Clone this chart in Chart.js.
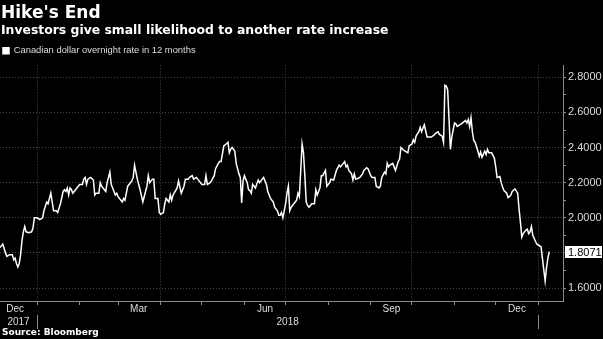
<!DOCTYPE html>
<html>
<head>
<meta charset="utf-8">
<script src="https://cdn.jsdelivr.net/npm/chart.js@4.4.0/dist/chart.umd.min.js"></script>
<style>
  html, body { margin: 0; padding: 0; background: #000; }
  #wrap { position: relative; width: 603px; height: 339px; overflow: hidden; }
  canvas { position: absolute; left: 0; top: 0; }
  .hd { position: absolute; left: 1px; color: #fff; font-family: "DejaVu Sans"; font-weight: bold; white-space: nowrap; }
  #title { top: 4px; font-size: 17px; line-height: 17px; }
  #sub { top: 23px; font-size: 12.4px; line-height: 13px; }
  #src { top: 328px; left: 2px; font-size: 9px; line-height: 9px; }
</style>
</head>
<body>
<div id="wrap">
  <canvas id="rateChart" width="603" height="339"></canvas>
  <div class="hd" id="title">Hike's End</div>
  <div class="hd" id="sub">Investors give small likelihood to another rate increase</div>
  <div class="hd" id="src">Source: Bloomberg</div>
</div>
<script>
// days counted from 1 Jan 2018
const days = [
  -27, -25, -23, -22, -20, -18, -17, -16, -15, -14, -13, -12, -11, -10, -9, -8, -6, -4, -3, -2,
  0, 2, 4, 5, 7, 8, 10, 11, 12, 14, 15, 17, 19, 20, 21, 22, 23, 24, 25, 26,
  29, 31, 33, 34, 35, 36, 37, 39, 41, 42, 43, 45, 46, 47, 49, 50, 51, 53, 54, 56,
  57, 58, 59, 62, 63, 64, 66, 67, 69, 70, 71, 73, 75, 77, 79, 80, 81, 82, 84, 85,
  86, 88, 89, 90, 92, 93, 94, 96, 97, 98, 99, 102, 103, 105, 107, 108, 110, 111, 113, 114,
  116, 117, 120, 122, 123, 124, 126, 127, 129, 130, 132, 133, 134, 136, 137, 139, 140, 141, 142, 144,
  145, 146, 147, 148, 149, 150, 151, 153, 154, 155, 156, 157, 159, 161, 162, 165, 167, 168, 170, 172,
  173, 175, 176, 177, 178, 179, 181, 182, 183, 184, 185, 187, 189, 190, 191, 193, 194, 195, 196, 197,
  198, 200, 202, 203, 204, 206, 207, 208, 210, 211, 213, 214, 216, 218, 220, 221, 222, 224, 225, 226,
  227, 229, 230, 231, 232, 234, 235, 237, 238, 240, 241, 243, 244, 246, 247, 249, 250, 251, 253, 254,
  255, 256, 257, 259, 260, 261, 263, 264, 265, 267, 268, 270, 271, 273, 274, 275, 276, 278, 279, 280,
  281, 282, 284, 285, 287, 289, 290, 292, 293, 295, 296, 297, 298, 299, 301, 302, 304, 305, 306, 308,
  309, 312, 313, 314, 315, 316, 317, 318, 319, 321, 322, 323, 324, 326, 327, 328, 329, 331, 333, 334,
  335, 337, 338, 339, 340, 342, 343, 344, 345, 346, 348, 350, 351, 352, 353, 354, 356, 357, 358, 359,
  360, 361, 363, 364, 365, 367, 368, 369, 370, 371, 372, 373
];
const rates = [
  1.83, 1.85, 1.80, 1.78, 1.79, 1.79, 1.76, 1.77, 1.74, 1.72, 1.74, 1.79, 1.87, 1.92, 1.95, 1.92, 1.915, 1.92, 1.94, 2.00,
  2.00, 1.99, 2.00, 2.04, 2.09, 2.08, 2.14, 2.09, 2.04, 2.04, 2.03, 2.08, 2.15, 2.16, 2.15, 2.17, 2.13, 2.17, 2.16, 2.14,
  2.17, 2.19, 2.19, 2.22, 2.23, 2.19, 2.22, 2.23, 2.215, 2.13, 2.14, 2.14, 2.20, 2.18, 2.16, 2.15, 2.20, 2.26, 2.19, 2.15,
  2.13, 2.14, 2.12, 2.09, 2.11, 2.10, 2.18, 2.19, 2.21, 2.23, 2.30, 2.22, 2.16, 2.09, 2.15, 2.18, 2.24, 2.20, 2.22, 2.22,
  2.11, 2.11, 2.03, 2.02, 2.03, 2.08, 2.11, 2.09, 2.13, 2.10, 2.13, 2.17, 2.21, 2.14, 2.18, 2.22, 2.22, 2.23, 2.24, 2.22,
  2.23, 2.22, 2.19, 2.19, 2.24, 2.19, 2.20, 2.21, 2.24, 2.28, 2.31, 2.32, 2.32, 2.41, 2.415, 2.43, 2.37, 2.39, 2.40, 2.38,
  2.31, 2.28, 2.25, 2.23, 2.085, 2.21, 2.24, 2.20, 2.16, 2.155, 2.14, 2.19, 2.17, 2.215, 2.20, 2.23, 2.19, 2.15, 2.11, 2.09,
  2.06, 2.04, 2.015, 2.015, 2.03, 2.00, 2.08, 2.14, 2.18, 2.04, 2.06, 2.08, 2.10, 2.14, 2.12, 2.42, 2.37, 2.24, 2.09, 2.07,
  2.06, 2.08, 2.08, 2.16, 2.13, 2.17, 2.24, 2.24, 2.27, 2.18, 2.20, 2.22, 2.215, 2.27, 2.30, 2.29, 2.30, 2.32, 2.29, 2.30,
  2.27, 2.25, 2.215, 2.25, 2.22, 2.225, 2.23, 2.25, 2.27, 2.285, 2.28, 2.24, 2.23, 2.23, 2.18, 2.17, 2.18, 2.23, 2.26, 2.25,
  2.31, 2.29, 2.30, 2.31, 2.29, 2.27, 2.32, 2.335, 2.40, 2.385, 2.38, 2.37, 2.41, 2.42, 2.445, 2.43, 2.465, 2.49, 2.515, 2.49,
  2.51, 2.53, 2.46, 2.46, 2.46, 2.47, 2.48, 2.49, 2.475, 2.465, 2.43, 2.755, 2.75, 2.73, 2.39, 2.46, 2.54, 2.535, 2.52, 2.53,
  2.535, 2.555, 2.54, 2.56, 2.52, 2.57, 2.49, 2.44, 2.43, 2.38, 2.35, 2.375, 2.345, 2.38, 2.36, 2.39, 2.37, 2.37, 2.34, 2.29,
  2.23, 2.235, 2.20, 2.175, 2.155, 2.14, 2.115, 2.12, 2.13, 2.15, 2.165, 2.14, 2.05, 1.975, 1.89, 1.91, 1.93, 1.935, 1.91, 1.92,
  1.95, 1.90, 1.865, 1.85, 1.845, 1.835, 1.77, 1.705, 1.64, 1.715, 1.77, 1.8071
];

// axis setup
const monthEdges = [0, 31, 59, 90, 120, 151, 181, 212, 243, 273, 304, 334, 365];
const quarterEdges = [0, 90, 181, 273, 365];
const monthMids = [-16, 74, 166, 258, 349.5];
const monthNames = ['Dec', 'Mar', 'Jun', 'Sep', 'Dec'];
const yearEdges = [0, 365];
const yearMids = [-13.5, 182.5];
const yearNames = ['2017', '2018'];
const yTickValues = [1.6, 1.7, 1.8, 1.9, 2.0, 2.1, 2.2, 2.3, 2.4, 2.5, 2.6, 2.7, 2.8];
const yLabelValues = [1.6, 1.8, 2.0, 2.2, 2.4, 2.6, 2.8];
const xMin = -27, xMax = 383;
const yMin = 1.526, yMax = 2.868;

const axisGrey = '#8c8c8c';
const gridGrey = '#4a4a4a';
const clear = 'rgba(0,0,0,0)';
const labelFont = { family: 'Liberation Sans', size: 10 };

const isLabel = v => yLabelValues.some(l => Math.abs(l - v) < 1e-6);

// last value box on the right axis
const lastValue = {
  id: 'lastValue',
  afterDraw(chart) {
    const y = chart.scales.y;
    const v = rates[rates.length - 1];
    const py = Math.round(y.getPixelForValue(v));
    const ctx = chart.ctx;
    const x0 = chart.chartArea.right + 2;
    ctx.save();
    ctx.fillStyle = '#fff';
    ctx.fillRect(x0, py - 6, chart.width - x0 - 1, 12);
    ctx.fillStyle = '#000';
    ctx.font = '11px "Liberation Sans"';
    ctx.textBaseline = 'middle';
    ctx.fillText(v.toFixed(4), x0 + 3, py + 1);
    ctx.restore();
  }
};

const ctx = document.getElementById('rateChart').getContext('2d');
const chart = new Chart(ctx, {
  type: 'line',
  data: {
    datasets: [{
      label: 'Canadian dollar overnight rate in 12 months',
      data: days.map((d, i) => ({ x: d, y: rates[i] })),
      borderColor: '#fff',
      backgroundColor: '#fff',
      borderWidth: 1.5,
      pointRadius: 0,
      tension: 0
    }]
  },
  options: {
    responsive: false,
    animation: false,
    layout: { padding: { top: 43, left: 0, right: 0, bottom: 8 } },
    plugins: {
      tooltip: { enabled: false },
      legend: {
        display: true,
        position: 'top',
        align: 'start',
        labels: { color: '#ddd', font: { family: 'Liberation Sans', size: 9.4 }, boxWidth: 6, boxHeight: 6, padding: 3 }
      }
    },
    scales: {
      x: {
        type: 'linear', position: 'bottom', min: xMin, max: xMax, weight: 0,
        afterBuildTicks: s => {
          s.ticks = monthEdges.concat(monthMids).sort((a, b) => a - b).map(v => ({ value: v }));
        },
        afterFit: s => { s.height = 14; },
        grid: {
          color: c => quarterEdges.includes(c.tick.value) ? gridGrey : clear,
          tickColor: c => monthEdges.includes(c.tick.value) ? axisGrey : clear,
          tickLength: 4
        },
        border: { color: axisGrey, dash: [1, 2] },
        ticks: {
          autoSkip: false, maxRotation: 0, padding: -2, color: '#ddd', font: labelFont,
          callback: v => monthMids.includes(v) ? monthNames[monthMids.indexOf(v)] : ''
        }
      },
      x2: {
        type: 'linear', position: 'bottom', min: xMin, max: xMax, weight: 1,
        afterBuildTicks: s => {
          s.ticks = yearEdges.concat(yearMids).sort((a, b) => a - b).map(v => ({ value: v }));
        },
        afterFit: s => { s.height = 16; },
        grid: {
          drawOnChartArea: false,
          color: clear,
          tickColor: c => yearEdges.includes(c.tick.value) ? axisGrey : clear,
          tickLength: 14
        },
        border: { display: false },
        ticks: {
          autoSkip: false, maxRotation: 0, padding: -13, color: '#ddd', font: labelFont,
          callback: v => yearMids.includes(v) ? yearNames[yearMids.indexOf(v)] : ''
        }
      },
      y: {
        position: 'right', min: yMin, max: yMax,
        afterBuildTicks: s => { s.ticks = yTickValues.map(v => ({ value: v })); },
        afterFit: s => { s.width = 40; },
        grid: {
          color: c => isLabel(c.tick.value) ? gridGrey : clear,
          tickColor: axisGrey,
          tickLength: 3
        },
        border: { color: axisGrey, dash: [1, 2] },
        ticks: {
          padding: 2, color: '#ddd', font: { family: 'Liberation Sans', size: 11 },
          callback: v => isLabel(v) ? v.toFixed(4) : ''
        }
      }
    }
  },
  plugins: [lastValue]
});
</script>
</body>
</html>
